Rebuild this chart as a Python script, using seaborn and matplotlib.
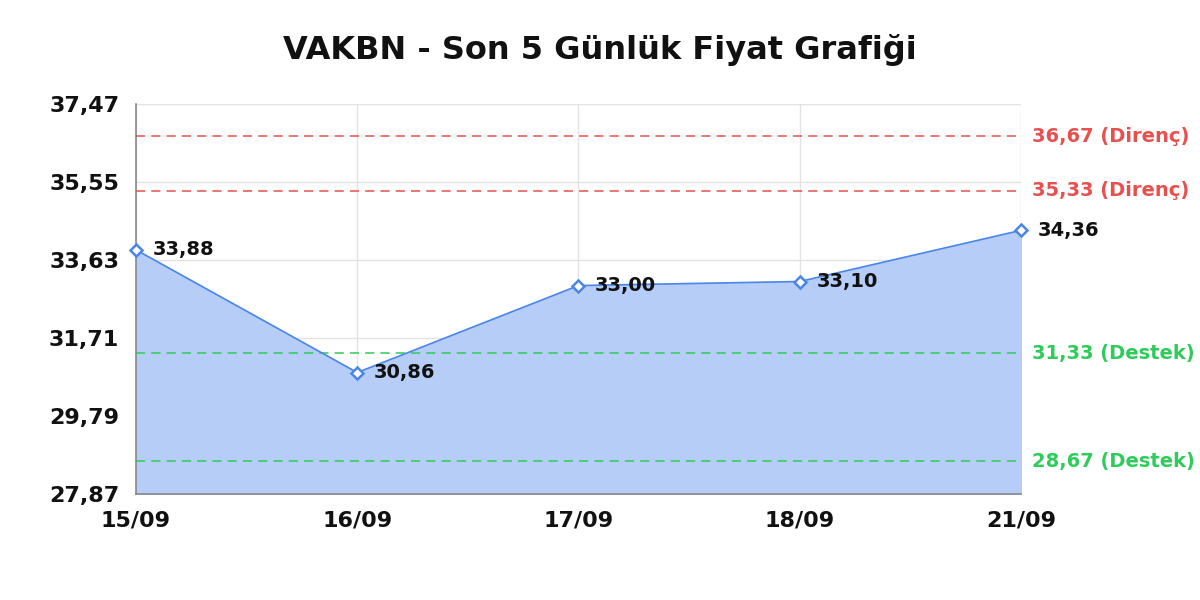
import matplotlib
matplotlib.use("Agg")
import matplotlib.pyplot as plt
import seaborn as sns
import pandas as pd
import numpy as np
from matplotlib.ticker import FuncFormatter

dates = ["15/09", "16/09", "17/09", "18/09", "21/09"]
prices = [33.88, 30.86, 33.00, 33.10, 34.36]
resistance = [36.67, 35.33]
support = [31.33, 28.67]
y_ticks = [27.87, 29.79, 31.71, 33.63, 35.55, 37.47]

sns.set_theme(style="white")
plt.rcParams['font.family'] = ['DejaVu Sans']

def tr(v):
    return f"{v:.2f}".replace(".", ",")

df = pd.DataFrame({"Tarih": dates, "Fiyat": prices})

fig = plt.figure(figsize=(12, 6), dpi=100)
ax = fig.add_axes([0.1133, 0.1767, 0.7375, 0.65])

xs = np.arange(len(dates))
ax.fill_between(xs, prices, y_ticks[0], color="#b5cdf7", zorder=1)
sns.lineplot(data=df, x="Tarih", y="Fiyat", ax=ax, color="#4a86e8", linewidth=1.2,
             marker="D", markersize=6, markerfacecolor="white", markeredgecolor="#4a86e8",
             markeredgewidth=1.8, zorder=4)
for ln in ax.lines:
    ln.set_clip_on(False)

for i, p in enumerate(prices):
    ax.annotate(tr(p), (i, p), xytext=(12, 0), textcoords="offset points",
                fontsize=14, fontweight="bold", color="#111111", va="center", ha="left", zorder=5)

for r in resistance:
    ax.axhline(r, color="#e8504f", linestyle=(0, (6, 4)), linewidth=1.1, zorder=3)
    ax.text(1.012, r, tr(r) + " (Direnç)", transform=ax.get_yaxis_transform(),
            color="#e8504f", fontsize=14, fontweight="bold", va="center", ha="left")
for s in support:
    ax.axhline(s, color="#2ecc5a", linestyle=(0, (6, 4)), linewidth=1.1, zorder=3)
    ax.text(1.012, s, tr(s) + " (Destek)", transform=ax.get_yaxis_transform(),
            color="#2ecc5a", fontsize=14, fontweight="bold", va="center", ha="left")

ax.set_xlim(0, len(dates) - 1)
ax.set_ylim(y_ticks[0], y_ticks[-1])
ax.set_yticks(y_ticks)
ax.yaxis.set_major_formatter(FuncFormatter(lambda v, _: tr(v)))
ax.grid(True, color="#e3e3e3", linewidth=1, zorder=0)
ax.set_axisbelow(True)
ax.set_xlabel("")
ax.set_ylabel("")
for side in ["top", "right"]:
    ax.spines[side].set_visible(False)
for side in ["left", "bottom"]:
    ax.spines[side].set_color("#888888")
    ax.spines[side].set_linewidth(1.2)
ax.tick_params(axis="y", labelsize=16, length=0, pad=12, labelcolor="#111111")
ax.tick_params(axis="x", labelsize=16, length=0, pad=12, labelcolor="#111111")
for lab in ax.get_xticklabels() + ax.get_yticklabels():
    lab.set_fontweight("bold")

fig.suptitle("VAKBN - Son 5 Günlük Fiyat Grafiği", fontsize=23, fontweight="bold",
             color="#111111", y=0.943)

fig.savefig("out.png", dpi=100)
